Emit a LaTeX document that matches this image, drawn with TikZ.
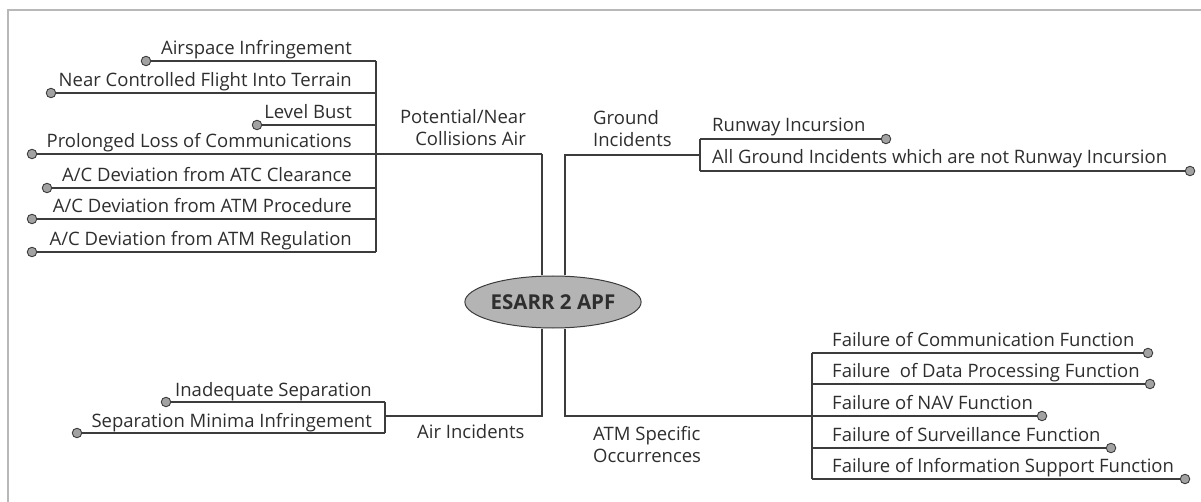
\documentclass[tikz,border=0pt]{standalone}
\usepackage{fontspec}
\setmainfont{Open Sans}
\usetikzlibrary{shapes.geometric}

\definecolor{wiregray}{HTML}{3C3C3C}
\definecolor{dotgray}{HTML}{A2A2A2}
\definecolor{framegray}{HTML}{B8B8B8}
\definecolor{hubgray}{HTML}{B4B4B4}
\definecolor{textgray}{HTML}{2E2E2E}

\tikzset{
	leaf/.style={inner sep=0, text=textgray, font=\fontsize{18.5}{22}\selectfont},
	group/.style={leaf, align=left},
	knob/.style={circle, draw=wiregray, fill=dotgray, line width=0.9pt, minimum size=9.5pt, inner sep=0},
	wire/.style={wiregray, line width=1.3pt},
	hub/.style={ellipse, draw=wiregray, fill=hubgray, line width=1pt, minimum width=154pt,
		minimum height=52pt, inner sep=0, text=textgray, font=\fontsize{20.5}{22}\selectfont\bfseries}
}

\begin{document}
\begin{tikzpicture}[x=1pt, y=-1pt]
	\useasboundingbox (0,0) rectangle (1201,502);

	%frame
	\draw [framegray, line width=1.2pt] (8,502) -- (8,10) -- (1201,10);

	%centre
	\node [hub] (apf) at (553,302) {ESARR 2 APF};

	%groups
	\coordinate (pnTurn) at (542,154);
	\coordinate (giTurn) at (565,155);
	\coordinate (giJoin) at (700,155);
	\coordinate (aiTurn) at (542,416);
	\coordinate (aiJoin) at (385,416);
	\coordinate (asTurn) at (565,416);

	\node [group, anchor=base east, align=right] (pnLabel) at (526,146) {Potential/Near\\Collisions Air};
	\node [group, anchor=base west] (giLabel) at (593,147) {Ground\\Incidents};
	\node [group, anchor=base west] (aiLabel) at (417,438) {Air Incidents};
	\node [group, anchor=base west] (asLabel) at (593,462) {ATM Specific\\Occurrences};

	\draw [wire] (apf.north -| pnTurn) -- (pnTurn);
	\draw [wire] (apf.north -| giTurn) -- (giTurn) -- (giJoin);
	\draw [wire] (apf.south -| aiTurn) -- (aiTurn) -- (aiJoin);

	%potential / near collisions air
	\foreach \i/\y/\xd/\txt in {
		1/61/146/Airspace Infringement,
		2/93/51/Near Controlled Flight Into Terrain,
		3/125/257/Level Bust,
		4/154/32/Prolonged Loss of Communications,
		5/188/47/{A/C Deviation from ATC Clearance},
		6/219/32/{A/C Deviation from ATM Procedure},
		7/252/32/{A/C Deviation from ATM Regulation}
	}{
		\coordinate (pnEnd\i) at (376,\y);
		\node [leaf, anchor=base east] (pnLeaf\i) at (352,\y-6) {\txt};
		\node [knob] (pnDot\i) at (\xd,\y) {};
		\draw [wire] (pnDot\i) -- (pnEnd\i);
	}
	\draw [wire] (pnEnd1) -- (pnEnd7);
	\draw [wire] (pnEnd4) -- (pnTurn);

	%ground incidents
	\foreach \i/\y/\xd/\txt in {
		1/139/886/Runway Incursion,
		2/171/1190/All Ground Incidents which are not Runway Incursion
	}{
		\coordinate (giEnd\i) at (700,\y);
		\node [leaf, anchor=base west] (giLeaf\i) at (712,\y-7) {\txt};
		\node [knob] (giDot\i) at (\xd,\y) {};
		\draw [wire] (giEnd\i) -- (giDot\i);
	}
	\draw [wire] (giEnd1) -- (giEnd2);

	%air incidents
	\foreach \i/\y/\xd/\txt in {
		1/402/166/Inadequate Separation,
		2/433/77/Separation Minima Infringement
	}{
		\coordinate (aiEnd\i) at (385,\y);
		\node [leaf, anchor=base east] (aiLeaf\i) at (372,\y-6) {\txt};
		\node [knob] (aiDot\i) at (\xd,\y) {};
		\draw [wire] (aiDot\i) -- (aiEnd\i);
	}
	\draw [wire] (aiEnd1) -- (aiEnd2);

	%atm specific occurrences
	\foreach \i/\y/\xd/\txt in {
		1/353/1148/Failure of Communication Function,
		2/384/1150/Failure~ of Data Processing Function,
		3/416/1042/Failure of NAV Function,
		4/448/1111/Failure of Surveillance Function,
		5/479/1185/Failure of Information Support Function
	}{
		\coordinate (asEnd\i) at (812,\y);
		\node [leaf, anchor=base west] (asLeaf\i) at (832,\y-7) {\txt};
		\node [knob] (asDot\i) at (\xd,\y) {};
		\draw [wire] (asEnd\i) -- (asDot\i);
	}
	\draw [wire] (asEnd1) -- (asEnd5);
	\draw [wire] (apf.south -| asTurn) -- (asTurn) -- (asEnd3);

\end{tikzpicture}
\end{document}
